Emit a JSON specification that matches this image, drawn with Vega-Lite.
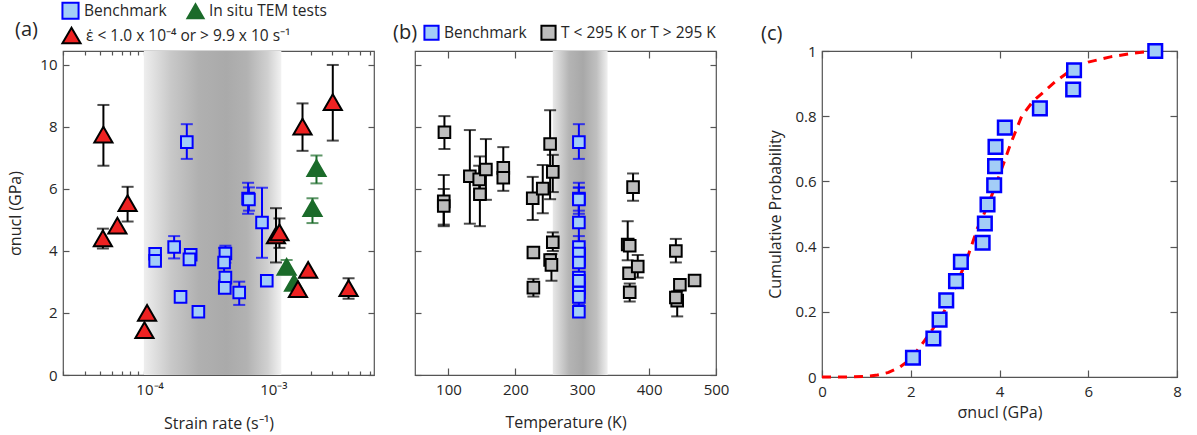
{
  "$schema": "https://vega.github.io/schema/vega-lite/v6.json",
  "padding": {"left": 7, "top": 0, "right": 5, "bottom": 5},
  "config": {
    "font": "Open Sans",
    "view": {"stroke": "#555555", "strokeWidth": 1.2},
    "axis": {"domain": false, "grid": false, "labelFontSize": 15, "titleFontSize": 16, "titleFontWeight": "normal", "labelColor": "#262626", "titleColor": "#262626", "tickColor": "#555555", "tickWidth": 1.2, "labelOverlap": false, "labelFlush": false},
    "title": {"fontSize": 20, "fontWeight": "normal", "anchor": "start", "frame": "group", "color": "#262626"},
    "legend": {"labelFontSize": 15.5, "labelColor": "#262626", "symbolStrokeWidth": 2, "labelLimit": 400}
  },
  "datasets": {
    "a": [
      {"x": 2.0e-4, "y": 7.51, "lo": 6.97, "hi": 8.09, "group": "Benchmark"},
      {"x": 6.25e-4, "y": 5.69, "lo": 5.2, "hi": 6.2, "group": "Benchmark"},
      {"x": 6.35e-4, "y": 5.66, "lo": 5.3, "hi": 6.05, "group": "Benchmark"},
      {"x": 8.1e-4, "y": 4.92, "lo": 3.78, "hi": 6.04, "group": "Benchmark"},
      {"x": 1.58e-4, "y": 4.13, "lo": 3.76, "hi": 4.48, "group": "Benchmark"},
      {"x": 1.11e-4, "y": 3.91, "group": "Benchmark"},
      {"x": 1.11e-4, "y": 3.68, "group": "Benchmark"},
      {"x": 2.15e-4, "y": 3.88, "group": "Benchmark"},
      {"x": 2.1e-4, "y": 3.73, "group": "Benchmark"},
      {"x": 4.1e-4, "y": 3.92, "lo": 3.62, "hi": 4.17, "group": "Benchmark"},
      {"x": 4.0e-4, "y": 3.63, "lo": 3.05, "hi": 4.1, "group": "Benchmark"},
      {"x": 4.1e-4, "y": 3.14, "group": "Benchmark"},
      {"x": 4.05e-4, "y": 2.81, "group": "Benchmark"},
      {"x": 5.3e-4, "y": 2.66, "lo": 2.26, "hi": 3.01, "group": "Benchmark"},
      {"x": 8.85e-4, "y": 3.04, "group": "Benchmark"},
      {"x": 1.78e-4, "y": 2.52, "group": "Benchmark"},
      {"x": 2.48e-4, "y": 2.04, "group": "Benchmark"},
      {"x": 2.23e-3, "y": 6.67, "lo": 6.18, "hi": 7.08, "group": "In situ TEM tests"},
      {"x": 2.07e-3, "y": 5.38, "lo": 4.9, "hi": 5.7, "group": "In situ TEM tests"},
      {"x": 1.28e-3, "y": 3.49, "lo": 3.25, "hi": 3.71, "group": "In situ TEM tests"},
      {"x": 1.47e-3, "y": 2.97, "group": "In situ TEM tests"},
      {"x": 4.24e-5, "y": 7.75, "lo": 6.75, "hi": 8.71, "group": "ε̇ < 1.0 x 10⁻⁴ or > 9.9 x 10 s⁻¹"},
      {"x": 4.2e-5, "y": 4.41, "lo": 4.08, "hi": 4.72, "group": "ε̇ < 1.0 x 10⁻⁴ or > 9.9 x 10 s⁻¹"},
      {"x": 5.5e-5, "y": 4.82, "group": "ε̇ < 1.0 x 10⁻⁴ or > 9.9 x 10 s⁻¹"},
      {"x": 6.65e-5, "y": 5.54, "lo": 4.95, "hi": 6.07, "group": "ε̇ < 1.0 x 10⁻⁴ or > 9.9 x 10 s⁻¹"},
      {"x": 9.55e-5, "y": 2.0, "group": "ε̇ < 1.0 x 10⁻⁴ or > 9.9 x 10 s⁻¹"},
      {"x": 9.1e-5, "y": 1.45, "group": "ε̇ < 1.0 x 10⁻⁴ or > 9.9 x 10 s⁻¹"},
      {"x": 1.05e-3, "y": 4.5, "lo": 3.63, "hi": 5.38, "group": "ε̇ < 1.0 x 10⁻⁴ or > 9.9 x 10 s⁻¹"},
      {"x": 1.12e-3, "y": 4.6, "lo": 4.1, "hi": 5.05, "group": "ε̇ < 1.0 x 10⁻⁴ or > 9.9 x 10 s⁻¹"},
      {"x": 1.72e-3, "y": 8.01, "lo": 7.23, "hi": 8.76, "group": "ε̇ < 1.0 x 10⁻⁴ or > 9.9 x 10 s⁻¹"},
      {"x": 3.02e-3, "y": 8.8, "lo": 7.56, "hi": 10.0, "group": "ε̇ < 1.0 x 10⁻⁴ or > 9.9 x 10 s⁻¹"},
      {"x": 1.58e-3, "y": 2.77, "group": "ε̇ < 1.0 x 10⁻⁴ or > 9.9 x 10 s⁻¹"},
      {"x": 1.91e-3, "y": 3.39, "group": "ε̇ < 1.0 x 10⁻⁴ or > 9.9 x 10 s⁻¹"},
      {"x": 4.05e-3, "y": 2.8, "lo": 2.46, "hi": 3.12, "group": "ε̇ < 1.0 x 10⁻⁴ or > 9.9 x 10 s⁻¹"}
    ],
    "b": [
      {"t": 94, "y": 7.83, "lo": 7.29, "hi": 8.35, "group": "T < 295 K or T > 295 K"},
      {"t": 93, "y": 5.6, "lo": 4.85, "hi": 6.45, "group": "T < 295 K or T > 295 K"},
      {"t": 93, "y": 5.45, "lo": 4.8, "hi": 6.0, "group": "T < 295 K or T > 295 K"},
      {"t": 132, "y": 6.41, "lo": 4.88, "hi": 7.9, "group": "T < 295 K or T > 295 K"},
      {"t": 146, "y": 6.31, "lo": 5.9, "hi": 6.75, "group": "T < 295 K or T > 295 K"},
      {"t": 147, "y": 5.83, "lo": 4.8, "hi": 7.05, "group": "T < 295 K or T > 295 K"},
      {"t": 156, "y": 6.63, "lo": 5.65, "hi": 7.61, "group": "T < 295 K or T > 295 K"},
      {"t": 182, "y": 6.68, "lo": 6.3, "hi": 7.35, "group": "T < 295 K or T > 295 K"},
      {"t": 182, "y": 6.36, "lo": 5.94, "hi": 6.75, "group": "T < 295 K or T > 295 K"},
      {"t": 226, "y": 5.7, "lo": 5.0, "hi": 6.39, "group": "T < 295 K or T > 295 K"},
      {"t": 241, "y": 6.01, "lo": 5.22, "hi": 6.77, "group": "T < 295 K or T > 295 K"},
      {"t": 252, "y": 7.45, "lo": 5.67, "hi": 8.54, "group": "T < 295 K or T > 295 K"},
      {"t": 256, "y": 6.55, "lo": 5.9, "hi": 7.1, "group": "T < 295 K or T > 295 K"},
      {"t": 227, "y": 3.95, "group": "T < 295 K or T > 295 K"},
      {"t": 227, "y": 2.82, "lo": 2.53, "hi": 3.1, "group": "T < 295 K or T > 295 K"},
      {"t": 256, "y": 4.28, "lo": 4.0, "hi": 4.6, "group": "T < 295 K or T > 295 K"},
      {"t": 252, "y": 3.71, "group": "T < 295 K or T > 295 K"},
      {"t": 254, "y": 3.55, "lo": 3.04, "hi": 3.9, "group": "T < 295 K or T > 295 K"},
      {"t": 368, "y": 4.21, "lo": 3.7, "hi": 4.96, "group": "T < 295 K or T > 295 K"},
      {"t": 371, "y": 4.17, "group": "T < 295 K or T > 295 K"},
      {"t": 370, "y": 3.28, "group": "T < 295 K or T > 295 K"},
      {"t": 383, "y": 3.5, "lo": 3.14, "hi": 3.87, "group": "T < 295 K or T > 295 K"},
      {"t": 371, "y": 2.67, "lo": 2.37, "hi": 2.95, "group": "T < 295 K or T > 295 K"},
      {"t": 376, "y": 6.06, "lo": 5.62, "hi": 6.5, "group": "T < 295 K or T > 295 K"},
      {"t": 440, "y": 4.0, "lo": 3.63, "hi": 4.39, "group": "T < 295 K or T > 295 K"},
      {"t": 446, "y": 2.91, "group": "T < 295 K or T > 295 K"},
      {"t": 442, "y": 2.4, "lo": 1.89, "hi": 2.7, "group": "T < 295 K or T > 295 K"},
      {"t": 440, "y": 2.5, "group": "T < 295 K or T > 295 K"},
      {"t": 468, "y": 3.05, "group": "T < 295 K or T > 295 K"},
      {"t": 295, "y": 7.51, "lo": 6.97, "hi": 8.09, "group": "Benchmark"},
      {"t": 295, "y": 5.69, "lo": 5.2, "hi": 6.2, "group": "Benchmark"},
      {"t": 295, "y": 5.66, "lo": 5.3, "hi": 6.05, "group": "Benchmark"},
      {"t": 295, "y": 4.92, "lo": 3.78, "hi": 6.04, "group": "Benchmark"},
      {"t": 295, "y": 4.13, "lo": 3.76, "hi": 4.48, "group": "Benchmark"},
      {"t": 295, "y": 3.91, "group": "Benchmark"},
      {"t": 295, "y": 3.68, "group": "Benchmark"},
      {"t": 295, "y": 3.88, "group": "Benchmark"},
      {"t": 295, "y": 3.73, "group": "Benchmark"},
      {"t": 295, "y": 3.92, "lo": 3.62, "hi": 4.17, "group": "Benchmark"},
      {"t": 295, "y": 3.63, "lo": 3.05, "hi": 4.1, "group": "Benchmark"},
      {"t": 295, "y": 3.14, "group": "Benchmark"},
      {"t": 295, "y": 2.81, "group": "Benchmark"},
      {"t": 295, "y": 2.66, "lo": 2.26, "hi": 3.01, "group": "Benchmark"},
      {"t": 295, "y": 3.04, "group": "Benchmark"},
      {"t": 295, "y": 2.52, "group": "Benchmark"},
      {"t": 295, "y": 2.04, "group": "Benchmark"}
    ],
    "c": [
      {"s": 2.05, "p": 0.059}, {"s": 2.51, "p": 0.118}, {"s": 2.65, "p": 0.176},
      {"s": 2.8, "p": 0.235}, {"s": 3.02, "p": 0.294}, {"s": 3.13, "p": 0.353},
      {"s": 3.62, "p": 0.412}, {"s": 3.67, "p": 0.471}, {"s": 3.73, "p": 0.529},
      {"s": 3.88, "p": 0.588}, {"s": 3.9, "p": 0.647}, {"s": 3.91, "p": 0.706},
      {"s": 4.12, "p": 0.765}, {"s": 4.91, "p": 0.824}, {"s": 5.66, "p": 0.882},
      {"s": 5.68, "p": 0.941}, {"s": 7.51, "p": 1.0}
    ],
    "fit": [
      {"s": 0, "p": 0}, {"s": 0.5, "p": 0}, {"s": 1.0, "p": 0.002}, {"s": 1.25, "p": 0.006},
      {"s": 1.5, "p": 0.014}, {"s": 1.75, "p": 0.03}, {"s": 2.0, "p": 0.055}, {"s": 2.25, "p": 0.1},
      {"s": 2.5, "p": 0.148}, {"s": 2.75, "p": 0.2}, {"s": 3.0, "p": 0.275}, {"s": 3.25, "p": 0.355},
      {"s": 3.5, "p": 0.455}, {"s": 3.75, "p": 0.53}, {"s": 4.0, "p": 0.62}, {"s": 4.25, "p": 0.715},
      {"s": 4.5, "p": 0.8}, {"s": 4.75, "p": 0.845}, {"s": 5.0, "p": 0.875}, {"s": 5.25, "p": 0.905},
      {"s": 5.5, "p": 0.93}, {"s": 5.75, "p": 0.952}, {"s": 6.0, "p": 0.966}, {"s": 6.5, "p": 0.982},
      {"s": 7.0, "p": 0.993}, {"s": 7.5, "p": 1.0}
    ]
  },
  "resolve": {"scale": {"color": "independent", "fill": "independent", "stroke": "independent", "shape": "independent", "size": "independent"}, "legend": {"color": "independent", "fill": "independent", "stroke": "independent", "shape": "independent", "size": "independent"}},
  "hconcat": [
    {
      "resolve": {"scale": {"color": "independent", "fill": "independent", "stroke": "independent", "shape": "independent", "size": "independent"}, "legend": {"color": "independent", "fill": "independent", "stroke": "independent", "shape": "independent", "size": "independent"}},
      "hconcat": [
        {
          "width": 311,
          "height": 324,
          "title": {"text": "(a)", "dx": -48, "dy": 47, "offset": 8},
          "resolve": {"axis": {"x": "independent", "y": "independent"}, "scale": {"fill": "independent", "stroke": "independent", "shape": "independent", "size": "independent"}, "legend": {"fill": "independent", "stroke": "independent", "shape": "independent", "size": "independent"}},
          "layer": [
            {
              "data": {"values": [{"x1": 9e-5, "x2": 1.16e-3, "y1": 0, "y2": 10.45}]},
              "mark": {"type": "rect", "fill": {"gradient": "linear", "x1": 0, "x2": 1, "y1": 0, "y2": 0, "stops": [
                {"offset": 0, "color": "#eeeeee"}, {"offset": 0.2, "color": "#c8c8c8"}, {"offset": 0.4, "color": "#b0b0b0"},
                {"offset": 0.6, "color": "#aaaaaa"}, {"offset": 0.75, "color": "#b2b2b2"}, {"offset": 0.9, "color": "#d0d0d0"}, {"offset": 1, "color": "#f2f2f2"}]}},
              "encoding": {
                "x": {"field": "x1", "type": "quantitative", "scale": {"type": "log", "domain": [2e-5, 6.5e-3], "nice": false},
                  "axis": {"orient": "top", "labels": false, "title": null,
                    "values": [2e-5, 3e-5, 4e-5, 5e-5, 6e-5, 7e-5, 8e-5, 9e-5, 1e-4, 2e-4, 3e-4, 4e-4, 5e-4, 6e-4, 7e-4, 8e-4, 9e-4, 1e-3, 2e-3, 3e-3, 4e-3, 5e-3, 6e-3],
                    "tickSize": {"condition": {"test": "abs(log(datum.value)/LN10 - round(log(datum.value)/LN10)) < 0.01", "value": -7}, "value": -4}}},
                "x2": {"field": "x2"},
                "y": {"field": "y1", "type": "quantitative", "scale": {"domain": [0, 10.45], "nice": false},
                  "axis": {"orient": "right", "labels": false, "title": null, "values": [0, 2, 4, 6, 8, 10], "tickSize": -6}},
                "y2": {"field": "y2"}
              }
            },
            {
              "data": {"name": "a"},
              "transform": [{"filter": "isValid(datum.lo)"}],
              "mark": {"type": "errorbar", "ticks": {"size": 12, "thickness": 2}, "thickness": 2},
              "encoding": {
                "x": {"field": "x", "type": "quantitative", "scale": {"type": "log", "domain": [2e-5, 6.5e-3], "nice": false}, "axis": null},
                "y": {"field": "lo", "type": "quantitative", "scale": {"domain": [0, 10.45], "nice": false}, "axis": null},
                "y2": {"field": "hi"},
                "color": {"field": "group", "type": "nominal", "legend": null,
                  "scale": {"domain": ["ε̇ < 1.0 x 10⁻⁴ or > 9.9 x 10 s⁻¹", "In situ TEM tests", "Benchmark"], "range": ["#000000", "#1b6b2a", "#0000ff"]}}
              }
            },
            {
              "data": {"name": "a"},
              "transform": [{"filter": "datum.group !== 'ε̇ < 1.0 x 10⁻⁴ or > 9.9 x 10 s⁻¹'"}],
              "mark": {"type": "point", "filled": true, "strokeWidth": 2, "opacity": 1},
              "encoding": {
                "x": {"field": "x", "type": "quantitative", "scale": {"type": "log", "domain": [2e-5, 6.5e-3], "nice": false},
                  "axis": {"orient": "bottom", "title": "Strain rate (s⁻¹)", "labelPadding": 14, "titlePadding": 15,
                    "values": [2e-5, 3e-5, 4e-5, 5e-5, 6e-5, 7e-5, 8e-5, 9e-5, 1e-4, 2e-4, 3e-4, 4e-4, 5e-4, 6e-4, 7e-4, 8e-4, 9e-4, 1e-3, 2e-3, 3e-3, 4e-3, 5e-3, 6e-3],
                    "labelExpr": "abs(log(datum.value)/LN10 + 4) < 0.01 ? '10⁻⁴' : (abs(log(datum.value)/LN10 + 3) < 0.01 ? '10⁻³' : '')",
                    "tickSize": {"condition": {"test": "abs(log(datum.value)/LN10 - round(log(datum.value)/LN10)) < 0.01", "value": -7}, "value": -4}}},
                "y": {"field": "y", "type": "quantitative", "scale": {"domain": [0, 10.45], "nice": false},
                  "axis": {"orient": "left", "title": "σnucl (GPa)", "values": [0, 2, 4, 6, 8, 10], "tickSize": -6, "labelPadding": 12, "titlePadding": 16}},
                "shape": {"field": "group", "type": "nominal",
                  "scale": {"domain": ["Benchmark", "In situ TEM tests"], "range": ["square", "triangle-up"]}},
                "fill": {"field": "group", "type": "nominal",
                  "scale": {"domain": ["Benchmark", "In situ TEM tests"], "range": ["#a3cdf7", "#1b6b2a"]},
                  "legend": {"title": null, "orient": "none", "legendX": -2, "legendY": -50, "direction": "horizontal", "symbolSize": 260, "columnPadding": 16}},
                "stroke": {"field": "group", "type": "nominal",
                  "scale": {"domain": ["Benchmark", "In situ TEM tests"], "range": ["#0000ff", "#1b6b2a"]}},
                "size": {"field": "group", "type": "nominal", "legend": null,
                  "scale": {"domain": ["In situ TEM tests", "Benchmark"], "range": [330, 135]}}
              }
            },
            {
              "data": {"name": "a"},
              "transform": [{"filter": "datum.group === 'ε̇ < 1.0 x 10⁻⁴ or > 9.9 x 10 s⁻¹'"}],
              "mark": {"type": "point", "filled": true, "shape": "triangle-up", "size": 330, "stroke": "#000000", "strokeWidth": 2, "opacity": 1},
              "encoding": {
                "x": {"field": "x", "type": "quantitative", "scale": {"type": "log", "domain": [2e-5, 6.5e-3], "nice": false}, "axis": null},
                "y": {"field": "y", "type": "quantitative", "scale": {"domain": [0, 10.45], "nice": false}, "axis": null},
                "fill": {"field": "group", "type": "nominal",
                  "scale": {"domain": ["ε̇ < 1.0 x 10⁻⁴ or > 9.9 x 10 s⁻¹"], "range": ["#ee2222"]},
                  "legend": {"title": null, "orient": "none", "legendX": -2, "legendY": -26, "direction": "horizontal", "symbolSize": 330, "symbolType": "triangle-up", "symbolStrokeColor": "#000000"}}
              }
            }
          ]
        },
        {
          "width": 301,
          "height": 324,
          "title": {"text": "(b)", "dx": -22, "dy": 27, "offset": 8},
          "resolve": {"axis": {"x": "independent", "y": "independent"}},
          "layer": [
            {
              "data": {"values": [{"x1": 256, "x2": 338, "y1": 0, "y2": 10.45}]},
              "mark": {"type": "rect", "fill": {"gradient": "linear", "x1": 0, "x2": 1, "y1": 0, "y2": 0, "stops": [
                {"offset": 0, "color": "#e8e8e8"}, {"offset": 0.3, "color": "#b4b4b4"}, {"offset": 0.55, "color": "#a8a8a8"},
                {"offset": 0.8, "color": "#c0c0c0"}, {"offset": 1, "color": "#f0f0f0"}]}},
              "encoding": {
                "x": {"field": "x1", "type": "quantitative", "scale": {"domain": [50, 500], "nice": false, "zero": false},
                  "axis": {"orient": "top", "labels": false, "title": null, "values": [100, 200, 300, 400, 500], "tickSize": -7}},
                "x2": {"field": "x2"},
                "y": {"field": "y1", "type": "quantitative", "scale": {"domain": [0, 10.45], "nice": false},
                  "axis": {"orient": "right", "labels": false, "title": null, "values": [0, 2, 4, 6, 8, 10], "tickSize": -6}},
                "y2": {"field": "y2"}
              }
            },
            {
              "data": {"name": "b"},
              "transform": [{"filter": "isValid(datum.lo)"}],
              "mark": {"type": "errorbar", "ticks": {"size": 12, "thickness": 2}, "thickness": 2},
              "encoding": {
                "x": {"field": "t", "type": "quantitative", "scale": {"domain": [50, 500], "nice": false, "zero": false}, "axis": null},
                "y": {"field": "lo", "type": "quantitative", "scale": {"domain": [0, 10.45], "nice": false}, "axis": null},
                "y2": {"field": "hi"},
                "color": {"field": "group", "type": "nominal", "legend": null,
                  "scale": {"domain": ["T < 295 K or T > 295 K", "Benchmark"], "range": ["#000000", "#0000ff"]}}
              }
            },
            {
              "data": {"name": "b"},
              "mark": {"type": "point", "filled": true, "shape": "square", "size": 135, "strokeWidth": 2, "opacity": 1},
              "encoding": {
                "x": {"field": "t", "type": "quantitative", "scale": {"domain": [50, 500], "nice": false, "zero": false},
                  "axis": {"orient": "bottom", "title": "Temperature (K)", "values": [100, 200, 300, 400, 500], "tickSize": -7, "labelPadding": 14, "titlePadding": 17}},
                "y": {"field": "y", "type": "quantitative", "scale": {"domain": [0, 10.45], "nice": false},
                  "axis": {"orient": "left", "labels": false, "title": null, "values": [0, 2, 4, 6, 8, 10], "tickSize": -6}},
                "fill": {"field": "group", "type": "nominal",
                  "scale": {"domain": ["Benchmark", "T < 295 K or T > 295 K"], "range": ["#a3cdf7", "#bdbdbd"]},
                  "legend": {"title": null, "orient": "none", "legendX": 8, "legendY": -27, "direction": "horizontal", "symbolSize": 200, "symbolType": "square", "columnPadding": 10}},
                "stroke": {"field": "group", "type": "nominal",
                  "scale": {"domain": ["Benchmark", "T < 295 K or T > 295 K"], "range": ["#0000ff", "#000000"]}}
              }
            }
          ]
        }
      ],
      "spacing": 16
    },
    {
      "width": 355,
      "height": 326,
      "title": {"text": "(c)", "dx": -61, "dy": 13, "offset": 8},
      "resolve": {"axis": {"x": "independent", "y": "independent"}},
      "layer": [
        {
          "data": {"name": "fit"},
          "mark": {"type": "line", "color": "#ff0000", "strokeWidth": 3, "strokeDash": [9, 7]},
          "encoding": {
            "x": {"field": "s", "type": "quantitative", "scale": {"domain": [0, 8], "nice": false},
              "axis": {"orient": "top", "labels": false, "title": null, "values": [0, 2, 4, 6, 8], "tickSize": -7}},
            "y": {"field": "p", "type": "quantitative", "scale": {"domain": [0, 1], "nice": false},
              "axis": {"orient": "right", "labels": false, "title": null, "values": [0, 0.2, 0.4, 0.6, 0.8, 1], "tickSize": -7}}
          }
        },
        {
          "data": {"name": "c"},
          "mark": {"type": "point", "filled": true, "shape": "square", "size": 185, "strokeWidth": 2.5, "fill": "#a3cdf7", "stroke": "#0000ff", "opacity": 1},
          "encoding": {
            "x": {"field": "s", "type": "quantitative", "scale": {"domain": [0, 8], "nice": false},
              "axis": {"orient": "bottom", "title": "σnucl (GPa)", "values": [0, 2, 4, 6, 8], "tickSize": -7, "labelPadding": 14, "titlePadding": 5}},
            "y": {"field": "p", "type": "quantitative", "scale": {"domain": [0, 1], "nice": false},
              "axis": {"orient": "left", "title": "Cumulative Probability", "values": [0, 0.2, 0.4, 0.6, 0.8, 1], "format": "~g", "tickSize": -7, "labelPadding": 13, "titlePadding": 11}}
          }
        }
      ]
    }
  ],
  "spacing": 30
}
